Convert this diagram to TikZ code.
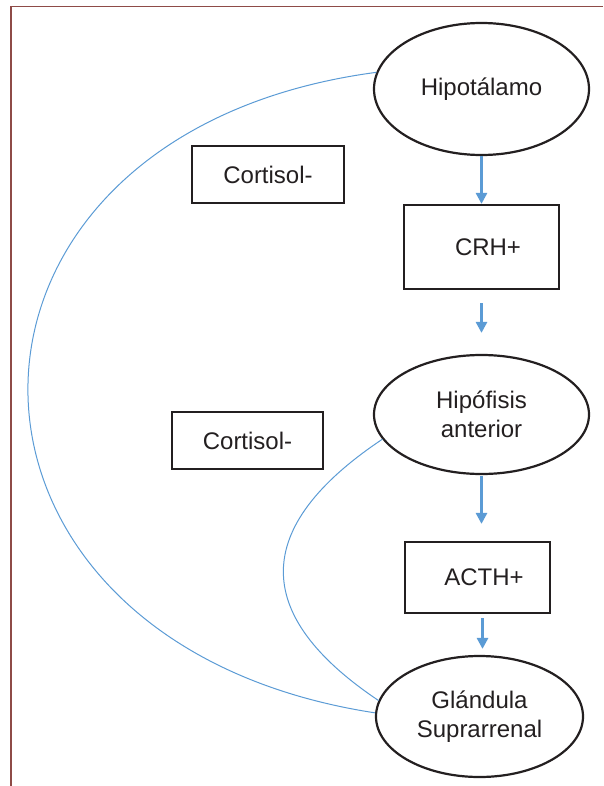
\documentclass[tikz,border=0pt]{standalone}
\usepackage{fontspec}
\setmainfont{Liberation Sans}
\usetikzlibrary{arrows.meta,shapes.geometric}
\definecolor{flowblue}{HTML}{5B9BD5}
\definecolor{inkgray}{HTML}{231F20}
\definecolor{framered}{HTML}{8E4B47}

\begin{document}
\begin{tikzpicture}[x=1pt,y=-1pt,
    organ/.style={draw=inkgray, line width=2.2pt, ellipse, inner sep=0pt, align=center, text=inkgray},
    hormone/.style={draw=inkgray, line width=2.2pt, rectangle, inner sep=0pt, text=inkgray},
    flow/.style={flowblue, line width=3pt, -{Triangle[width=11pt,length=11pt]}},
    feedback/.style={flowblue, line width=1pt},
    font=\fontsize{24}{29}\selectfont]
    \useasboundingbox (0,0) rectangle (603,786);
    \draw[framered, line width=1.5pt] (11,786) -- (11,6.5) -- (603,6.5);

    \node[organ, minimum width=215pt, minimum height=132pt] (hipot) at (481.5,89) {Hipotálamo};
    \node[organ, minimum width=215pt, minimum height=119pt] (hipof) at (481.5,414.5) {Hipófisis\\anterior};
    \node[organ, minimum width=207pt, minimum height=121pt] (glan) at (479.5,716.5) {Glándula\\Suprarrenal};

    \node[hormone, minimum width=155pt, minimum height=84pt] (crh) at (481.5,247) {\hspace*{13pt}CRH+};
    \node[hormone, minimum width=145pt, minimum height=71pt] (acth) at (477.5,577.5) {\hspace*{13pt}ACTH+};
    \node[hormone, minimum width=152pt, minimum height=57pt] (cort1) at (268,174.5) {Cortisol-};
    \node[hormone, minimum width=151pt, minimum height=57pt] (cort2) at (247.5,440.5) {Cortisol-};

    \draw[flow] (hipot.south) -- (crh.north);
    \draw[flow, shorten <=13pt, shorten >=21pt] (crh.south) -- (hipof.north);
    \draw[flow, shorten <=1pt, shorten >=17pt] (hipof.south) -- (hipof.south |- acth.north);
    \draw[flow, shorten <=4pt, shorten >=6pt] ([xshift=3pt]glan.north |- acth.south) -- ([xshift=3pt]glan.north);

    \draw[feedback] (hipot.171) .. controls (-88,134) and (-88,642) .. (glan.178);
    \draw[feedback] (hipof.194) .. controls (251,527) and (251,615) .. (glan.171);
\end{tikzpicture}
\end{document}
